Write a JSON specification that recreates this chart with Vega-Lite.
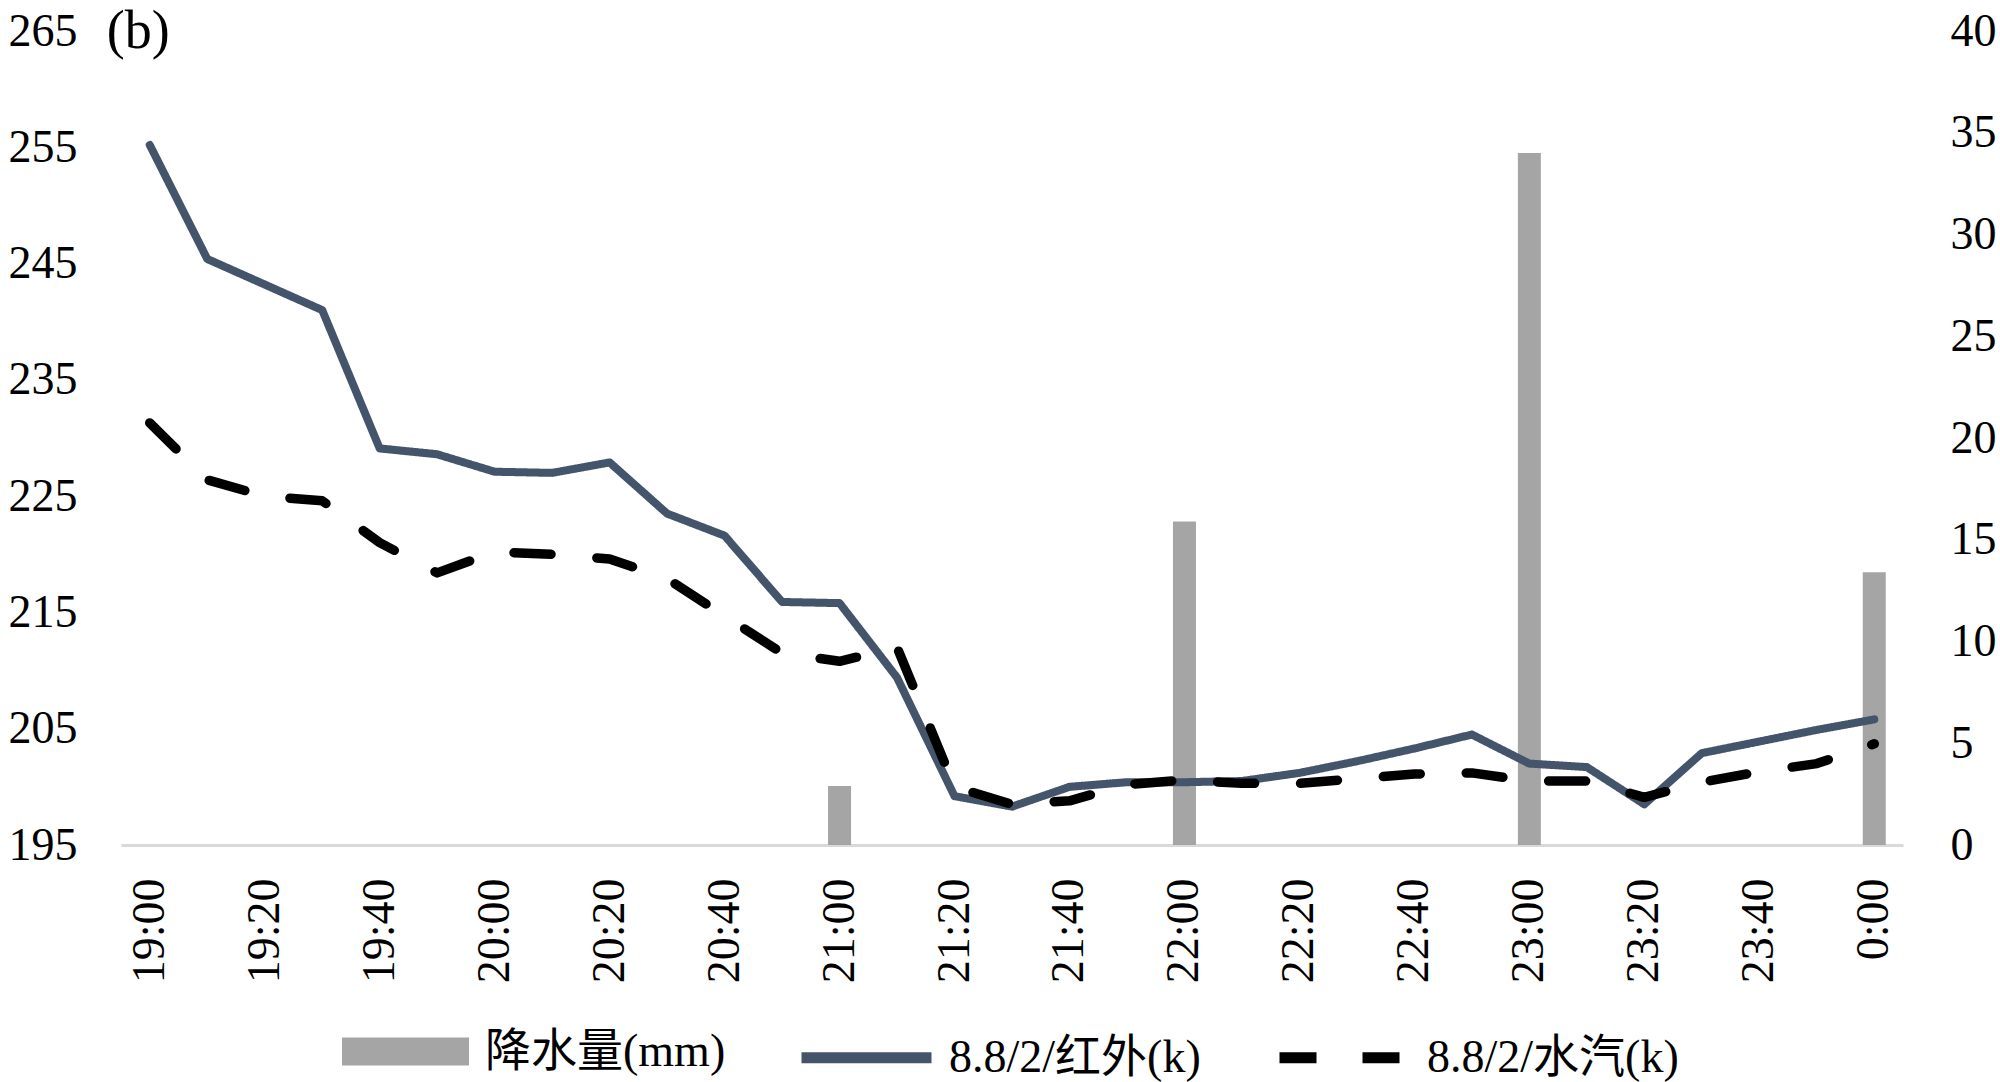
{
  "$schema": "https://vega.github.io/schema/vega-lite/v6.json",
  "width": 1782,
  "height": 814,
  "autosize": {"type": "none"},
  "padding": {"left": 121, "top": 31, "right": 97, "bottom": 237},
  "background": "white",
  "datasets": {
    "temp": [
      {"time": "19:00", "series": "8.8/2/红外(k)", "k": 255.2},
      {"time": "19:10", "series": "8.8/2/红外(k)", "k": 245.4},
      {"time": "19:20", "series": "8.8/2/红外(k)", "k": 243.2},
      {"time": "19:30", "series": "8.8/2/红外(k)", "k": 241.0},
      {"time": "19:40", "series": "8.8/2/红外(k)", "k": 229.1},
      {"time": "19:50", "series": "8.8/2/红外(k)", "k": 228.6},
      {"time": "20:00", "series": "8.8/2/红外(k)", "k": 227.1},
      {"time": "20:10", "series": "8.8/2/红外(k)", "k": 227.0},
      {"time": "20:20", "series": "8.8/2/红外(k)", "k": 227.9},
      {"time": "20:30", "series": "8.8/2/红外(k)", "k": 223.5},
      {"time": "20:40", "series": "8.8/2/红外(k)", "k": 221.6},
      {"time": "20:50", "series": "8.8/2/红外(k)", "k": 215.9},
      {"time": "21:00", "series": "8.8/2/红外(k)", "k": 215.8},
      {"time": "21:10", "series": "8.8/2/红外(k)", "k": 209.4},
      {"time": "21:20", "series": "8.8/2/红外(k)", "k": 199.2},
      {"time": "21:30", "series": "8.8/2/红外(k)", "k": 198.3},
      {"time": "21:40", "series": "8.8/2/红外(k)", "k": 200.0},
      {"time": "21:50", "series": "8.8/2/红外(k)", "k": 200.4},
      {"time": "22:00", "series": "8.8/2/红外(k)", "k": 200.4},
      {"time": "22:10", "series": "8.8/2/红外(k)", "k": 200.5},
      {"time": "22:20", "series": "8.8/2/红外(k)", "k": 201.2},
      {"time": "22:30", "series": "8.8/2/红外(k)", "k": 202.2},
      {"time": "22:40", "series": "8.8/2/红外(k)", "k": 203.3},
      {"time": "22:50", "series": "8.8/2/红外(k)", "k": 204.5},
      {"time": "23:00", "series": "8.8/2/红外(k)", "k": 202.0},
      {"time": "23:10", "series": "8.8/2/红外(k)", "k": 201.7},
      {"time": "23:20", "series": "8.8/2/红外(k)", "k": 198.5},
      {"time": "23:30", "series": "8.8/2/红外(k)", "k": 202.9},
      {"time": "23:40", "series": "8.8/2/红外(k)", "k": 203.9},
      {"time": "23:50", "series": "8.8/2/红外(k)", "k": 204.9},
      {"time": "0:00", "series": "8.8/2/红外(k)", "k": 205.8},
      {"time": "19:00", "series": "8.8/2/水汽(k)", "k": 231.3},
      {"time": "19:10", "series": "8.8/2/水汽(k)", "k": 226.4},
      {"time": "19:20", "series": "8.8/2/水汽(k)", "k": 225.0},
      {"time": "19:30", "series": "8.8/2/水汽(k)", "k": 224.6},
      {"time": "19:40", "series": "8.8/2/水汽(k)", "k": 221.0},
      {"time": "19:50", "series": "8.8/2/水汽(k)", "k": 218.4},
      {"time": "20:00", "series": "8.8/2/水汽(k)", "k": 220.2},
      {"time": "20:10", "series": "8.8/2/水汽(k)", "k": 220.0},
      {"time": "20:20", "series": "8.8/2/水汽(k)", "k": 219.6},
      {"time": "20:30", "series": "8.8/2/水汽(k)", "k": 217.9},
      {"time": "20:40", "series": "8.8/2/水汽(k)", "k": 214.7},
      {"time": "20:50", "series": "8.8/2/水汽(k)", "k": 211.5},
      {"time": "21:00", "series": "8.8/2/水汽(k)", "k": 210.8},
      {"time": "21:10", "series": "8.8/2/水汽(k)", "k": 212.0},
      {"time": "21:20", "series": "8.8/2/水汽(k)", "k": 200.0},
      {"time": "21:30", "series": "8.8/2/水汽(k)", "k": 198.5},
      {"time": "21:40", "series": "8.8/2/水汽(k)", "k": 198.8},
      {"time": "21:50", "series": "8.8/2/水汽(k)", "k": 200.2},
      {"time": "22:00", "series": "8.8/2/水汽(k)", "k": 200.6},
      {"time": "22:10", "series": "8.8/2/水汽(k)", "k": 200.3},
      {"time": "22:20", "series": "8.8/2/水汽(k)", "k": 200.3},
      {"time": "22:30", "series": "8.8/2/水汽(k)", "k": 200.7},
      {"time": "22:40", "series": "8.8/2/水汽(k)", "k": 201.1},
      {"time": "22:50", "series": "8.8/2/水汽(k)", "k": 201.2},
      {"time": "23:00", "series": "8.8/2/水汽(k)", "k": 200.5},
      {"time": "23:10", "series": "8.8/2/水汽(k)", "k": 200.5},
      {"time": "23:20", "series": "8.8/2/水汽(k)", "k": 199.1},
      {"time": "23:30", "series": "8.8/2/水汽(k)", "k": 200.4},
      {"time": "23:40", "series": "8.8/2/水汽(k)", "k": 201.3},
      {"time": "23:50", "series": "8.8/2/水汽(k)", "k": 202.0},
      {"time": "0:00", "series": "8.8/2/水汽(k)", "k": 203.7}
    ],
    "rain": [
      {"time": "21:00", "series": "降水量(mm)", "mm": 2.9},
      {"time": "22:00", "series": "降水量(mm)", "mm": 15.9},
      {"time": "23:00", "series": "降水量(mm)", "mm": 34.0},
      {"time": "0:00", "series": "降水量(mm)", "mm": 13.4}
    ],
    "panel": [
      {"label": "(b)", "time": "19:00", "k": 265}
    ]
  },
  "encoding": {
    "x": {
      "field": "time",
      "type": "nominal",
      "scale": {
        "type": "band",
        "paddingInner": 0,
        "paddingOuter": 0,
        "domain": ["19:00","19:10","19:20","19:30","19:40","19:50","20:00","20:10","20:20","20:30","20:40","20:50","21:00","21:10","21:20","21:30","21:40","21:50","22:00","22:10","22:20","22:30","22:40","22:50","23:00","23:10","23:20","23:30","23:40","23:50","0:00"]
      },
      "axis": {
        "title": null,
        "values": ["19:00","19:20","19:40","20:00","20:20","20:40","21:00","21:20","21:40","22:00","22:20","22:40","23:00","23:20","23:40","0:00"],
        "labelAngle": -90,
        "labelPadding": 33,
        "domain": true,
        "domainColor": "#D9D9D9",
        "domainWidth": 3,
        "ticks": false,
        "tickSize": 0,
        "grid": false
      }
    }
  },
  "layer": [
    {
      "data": {"name": "rain"},
      "mark": {"type": "bar", "width": {"band": 0.4}, "color": "#A5A5A5"},
      "encoding": {
        "y": {
          "field": "mm",
          "type": "quantitative",
          "scale": {"domain": [0, 40], "nice": false, "zero": true},
          "axis": {"orient": "right", "title": null, "values": [0,5,10,15,20,25,30,35,40], "labelAlign": "left", "labelPadding": 47, "domain": false, "ticks": false, "grid": false}
        },
        "fill": {
          "field": "series",
          "type": "nominal",
          "scale": {"domain": ["降水量(mm)"], "range": ["#A5A5A5"]},
          "legend": {
            "orient": "none",
            "legendX": 221,
            "legendY": 957,
            "direction": "horizontal",
            "title": null,
            "symbolType": "M-1,-0.22H1V0.22H-1Z",
            "symbolSize": 16129,
            "symbolStrokeWidth": 0,
            "labelOffset": 16,
            "padding": 0
          }
        }
      }
    },
    {
      "data": {"name": "temp"},
      "encoding": {
        "x": {"field": "time", "type": "nominal", "bandPosition": 0.5},
        "y": {
          "field": "k",
          "type": "quantitative",
          "scale": {"domain": [195, 265], "nice": false, "zero": false},
          "axis": {"orient": "left", "title": null, "values": [195,205,215,225,235,245,255,265], "labelPadding": 44, "domain": false, "ticks": false, "grid": false}
        },
        "stroke": {
          "field": "series",
          "type": "nominal",
          "scale": {"domain": ["8.8/2/红外(k)", "8.8/2/水汽(k)"], "range": ["#44546A", "#000000"]},
          "legend": {
            "orient": "none",
            "legendX": 675,
            "legendY": 956,
            "direction": "horizontal",
            "title": null,
            "symbolType": "stroke",
            "symbolSize": 16900,
            "symbolStrokeWidth": 11,
            "labelOffset": 12,
            "columnPadding": 56,
            "padding": 0
          }
        },
        "strokeDash": {
          "field": "series",
          "type": "nominal",
          "scale": {"domain": ["8.8/2/红外(k)", "8.8/2/水汽(k)"], "range": [[1, 0], [37, 46]]}
        }
      },
      "layer": [
        {
          "transform": [{"filter": "datum.series === '8.8/2/红外(k)'"}],
          "mark": {"type": "line", "strokeWidth": 8, "strokeCap": "round", "strokeJoin": "round"}
        },
        {
          "transform": [{"filter": "datum.series === '8.8/2/水汽(k)'"}],
          "mark": {"type": "line", "strokeWidth": 9.5, "strokeCap": "round", "strokeJoin": "round"}
        }
      ]
    },
    {
      "data": {"name": "panel"},
      "mark": {"type": "text", "align": "left", "baseline": "middle", "dx": -43, "dy": 1, "font": "Liberation Serif", "fontSize": 54, "color": "#000000"},
      "encoding": {
        "x": {"field": "time", "type": "nominal", "bandPosition": 0.5},
        "y": {"field": "k", "type": "quantitative", "scale": {"domain": [195, 265], "nice": false, "zero": false}, "axis": null},
        "text": {"field": "label", "type": "nominal"}
      }
    }
  ],
  "resolve": {"scale": {"y": "independent"}},
  "config": {
    "view": {"stroke": null},
    "axis": {"labelFont": "Liberation Serif", "labelFontSize": 46, "labelColor": "#000000"},
    "legend": {"labelFont": "Liberation Serif, Noto Sans CJK SC", "labelFontSize": 46, "labelColor": "#000000", "labelLimit": 0}
  }
}
